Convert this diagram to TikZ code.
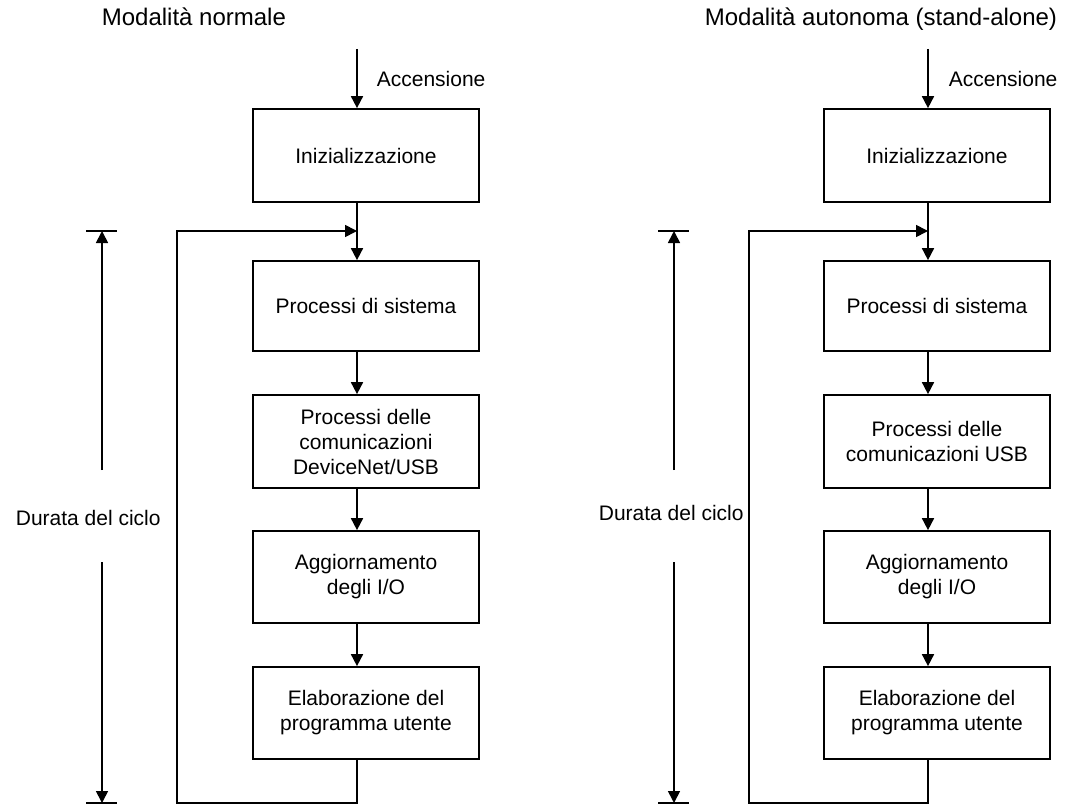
\documentclass[tikz,border=0pt]{standalone}
\usepackage{fontspec}
\setmainfont{Liberation Sans}
\usetikzlibrary{arrows.meta}
\begin{document}
\begin{tikzpicture}[x=1pt,y=-1pt,
  line width=1.7pt,
  arr/.style={-{Triangle[length=12pt,width=12pt]}},
  procbox/.style={draw, line width=1.7pt, minimum width=226pt, inner sep=0pt, align=center,
                  font=\fontsize{21}{25}\selectfont},
  lbl/.style={inner sep=0pt, font=\fontsize{21}{25}\selectfont},
  ttl/.style={inner sep=0pt, font=\fontsize{24}{28}\selectfont}]
\useasboundingbox (0,0) rectangle (1068,805);

% ---------- Left panel: Modalità normale ----------
\node[ttl, anchor=base west] (Ltitle) at (101,26) {Modalità normale};
\coordinate (sL) at (357,0);
\coordinate (Lpow) at (357,49);
\node[lbl, anchor=base west] (Lacc) at (376,87) {Accensione};

\node[procbox, minimum height=93pt] (L1) at (366,155.5) {Inizializzazione};
\node[procbox, minimum height=90pt] (L2) at (366,306) {Processi di sistema};
\node[procbox, minimum height=93pt] (L3) at (366,441.5) {Processi delle\\comunicazioni\\DeviceNet/USB};
\node[procbox, minimum height=92pt] (L4) at (366,577) {Aggiornamento\\degli I/O};
\node[procbox, minimum height=92pt] (L5) at (366,713) {Elaborazione del\\programma utente};

\draw[arr] (Lpow) -- (L1.north -| sL);
\draw[arr] (L1.south -| sL) -- (L2.north -| sL);
\draw[arr] (L2.south -| sL) -- (L3.north -| sL);
\draw[arr] (L3.south -| sL) -- (L4.north -| sL);
\draw[arr] (L4.south -| sL) -- (L5.north -| sL);

\coordinate (Lloop) at (177,803);
\coordinate (Ljoin) at (357,231);
\draw[arr] (L5.south -| sL) |- (Lloop) |- (Ljoin);

\coordinate (Ldtop) at (102,231);
\coordinate (Ldbot) at (102,803);
\coordinate (Ld1) at (102,470);
\coordinate (Ld2) at (102,562);
\draw[arr] (Ld1) -- (Ldtop);
\draw[arr] (Ld2) -- (Ldbot);
\draw ([xshift=-16pt]Ldtop) -- ([xshift=15pt]Ldtop);
\draw ([xshift=-16pt]Ldbot) -- ([xshift=15pt]Ldbot);
\node[lbl, anchor=base west] (Ldur) at (15,525) {Durata del ciclo};

% ---------- Right panel: Modalità autonoma ----------
\node[ttl, anchor=base west] (Rtitle) at (704,26) {Modalità autonoma (stand-alone)};
\coordinate (sR) at (928,0);
\coordinate (Rpow) at (928,49);
\node[lbl, anchor=base west] (Racc) at (948,87) {Accensione};

\node[procbox, minimum height=93pt] (R1) at (937,155.5) {Inizializzazione};
\node[procbox, minimum height=90pt] (R2) at (937,306) {Processi di sistema};
\node[procbox, minimum height=93pt] (R3) at (937,441.5) {Processi delle\\comunicazioni USB};
\node[procbox, minimum height=92pt] (R4) at (937,577) {Aggiornamento\\degli I/O};
\node[procbox, minimum height=92pt] (R5) at (937,713) {Elaborazione del\\programma utente};

\draw[arr] (Rpow) -- (R1.north -| sR);
\draw[arr] (R1.south -| sR) -- (R2.north -| sR);
\draw[arr] (R2.south -| sR) -- (R3.north -| sR);
\draw[arr] (R3.south -| sR) -- (R4.north -| sR);
\draw[arr] (R4.south -| sR) -- (R5.north -| sR);

\coordinate (Rloop) at (749,803);
\coordinate (Rjoin) at (928,231);
\draw[arr] (R5.south -| sR) |- (Rloop) |- (Rjoin);

\coordinate (Rdtop) at (674,231);
\coordinate (Rdbot) at (674,803);
\coordinate (Rd1) at (674,470);
\coordinate (Rd2) at (674,562);
\draw[arr] (Rd1) -- (Rdtop);
\draw[arr] (Rd2) -- (Rdbot);
\draw ([xshift=-16pt]Rdtop) -- ([xshift=15pt]Rdtop);
\draw ([xshift=-16pt]Rdbot) -- ([xshift=15pt]Rdbot);
\node[lbl, anchor=base west] (Rdur) at (598,520) {Durata del ciclo};
\end{tikzpicture}
\end{document}
